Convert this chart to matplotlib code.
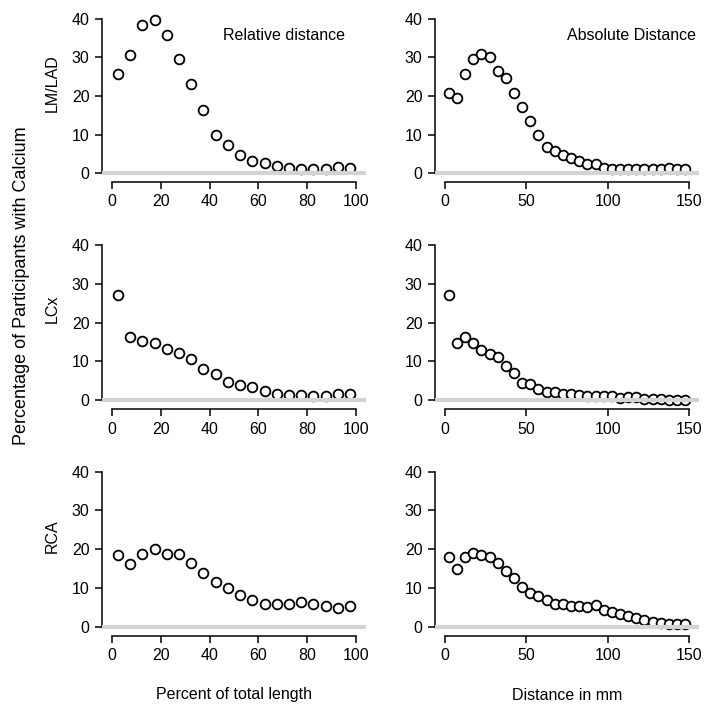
import matplotlib
matplotlib.use("Agg")
import matplotlib.pyplot as plt
import numpy as np

plt.rcParams['font.family'] = ['Liberation Sans', 'DejaVu Sans']

# ---- data ----
rel_x = [2.5 + 5 * i for i in range(20)]
abs_x = [2.5 + 5 * i for i in range(30)]

lm_rel = [25.8, 30.6, 38.4, 39.7, 35.9, 29.7, 23.2, 16.4, 10.0, 7.3,
          4.7, 3.2, 2.7, 1.9, 1.3, 1.1, 1.1, 1.1, 1.6, 1.3]
lm_abs = [20.7, 19.5, 25.6, 29.5, 30.8, 30.2, 26.4, 24.7, 20.7, 17.1,
          13.6, 9.9, 6.7, 5.8, 4.8, 3.8, 3.0, 2.4, 2.4, 1.4,
          1.1, 1.1, 1.1, 1.1, 1.0, 1.0, 1.0, 1.2, 1.0, 1.0]
lcx_rel = [27.1, 16.4, 15.4, 14.7, 13.3, 12.1, 10.6, 8.0, 6.9, 4.8,
           3.9, 3.4, 2.5, 1.5, 1.4, 1.4, 1.2, 1.2, 1.5, 1.5]
lcx_abs = [27.1, 14.8, 16.2, 14.8, 12.9, 11.9, 11.1, 8.8, 7.1, 4.5,
           4.3, 2.9, 2.2, 2.1, 1.5, 1.5, 1.3, 1.0, 1.0, 1.0,
           1.0, 0.7, 0.8, 0.8, 0.3, 0.3, 0.4, 0.1, 0.0, 0.1]
rca_rel = [18.4, 16.2, 18.8, 20.1, 18.7, 18.7, 16.5, 13.8, 11.6, 10.1,
           8.3, 6.9, 5.9, 5.9, 5.9, 6.5, 5.9, 5.4, 4.9, 5.4]
rca_abs = [18.0, 14.8, 17.9, 18.9, 18.4, 18.1, 16.4, 14.3, 12.5, 10.3,
           8.8, 7.9, 6.9, 5.9, 5.9, 5.4, 5.4, 5.2, 5.5, 4.3,
           3.8, 3.2, 2.8, 2.2, 1.7, 1.3, 1.0, 0.7, 0.7, 0.7]

row_labels = ["LM/LAD", "LCx", "RCA"]
rel_ticks = [0, 20, 40, 60, 80, 100]
abs_ticks = [0, 50, 100, 150]
y_ticks = [0, 10, 20, 30, 40]

W, H = 718, 719
fig = plt.figure(figsize=(W / 100, H / 100), dpi=100)

rows = [(12.8, 179.2), (238.8, 406.5), (465.5, 632.9)]
cols = [(102, 366), (435, 699)]

data = [(lm_rel, lm_abs), (lcx_rel, lcx_abs), (rca_rel, rca_abs)]
FS = 11.5

for r, (top, bot) in enumerate(rows):
    for c, (left, right) in enumerate(cols):
        ax = fig.add_axes([left / W, 1 - bot / H, (right - left) / W, (bot - top) / H])
        if c == 0:
            xs, ys, ticks, xlim = rel_x, data[r][0], rel_ticks, (-4, 104)
        else:
            xs, ys, ticks, xlim = abs_x, data[r][1], abs_ticks, (-6, 156)
        ax.plot(xs, ys, linestyle='none', marker='o', markersize=7,
                markerfacecolor='white', markeredgecolor='black',
                markeredgewidth=1.3, zorder=2, clip_on=False)
        ax.axhline(0, color='#d3d3d3', lw=3.0, zorder=3)
        ax.set_xlim(*xlim)
        ax.set_ylim(-1.6, 41.6)
        ax.set_xticks(ticks)
        ax.set_yticks(y_ticks)
        for s in ['top', 'right']:
            ax.spines[s].set_visible(False)
        ax.spines['bottom'].set_bounds(ticks[0], ticks[-1])
        ax.spines['left'].set_bounds(0, 40)
        ax.spines['bottom'].set_position(('outward', 2))
        for s in ['bottom', 'left']:
            ax.spines[s].set_linewidth(1.1)
        ax.tick_params(axis='both', direction='out', length=5, width=1.1,
                       labelsize=FS, colors='black')
        ax.tick_params(axis='x', pad=4)
        ax.tick_params(axis='y', pad=4)
        ax.patch.set_alpha(0)
        if c == 0:
            ax.text((52 - left) / (right - left), 0.58, row_labels[r], rotation=90,
                    transform=ax.transAxes, ha='center', va='center', fontsize=FS)
        if r == 0:
            if c == 0:
                ax.text(70.3, 35.8, "Relative distance", ha='center', va='center', fontsize=FS)
            else:
                ax.text(114.5, 35.8, "Absolute Distance", ha='center', va='center', fontsize=FS)

fig.text(22 / W, 1 - 286 / H, "Percentage of Participants with Calcium",
         rotation=90, ha='center', va='center', fontsize=13)
fig.text(234 / W, 1 - 695 / H, "Percent of total length", ha='center', va='center', fontsize=FS)
fig.text(567 / W, 1 - 695 / H, "Distance in mm", ha='center', va='center', fontsize=FS)

fig.savefig("out.png", dpi=100)
